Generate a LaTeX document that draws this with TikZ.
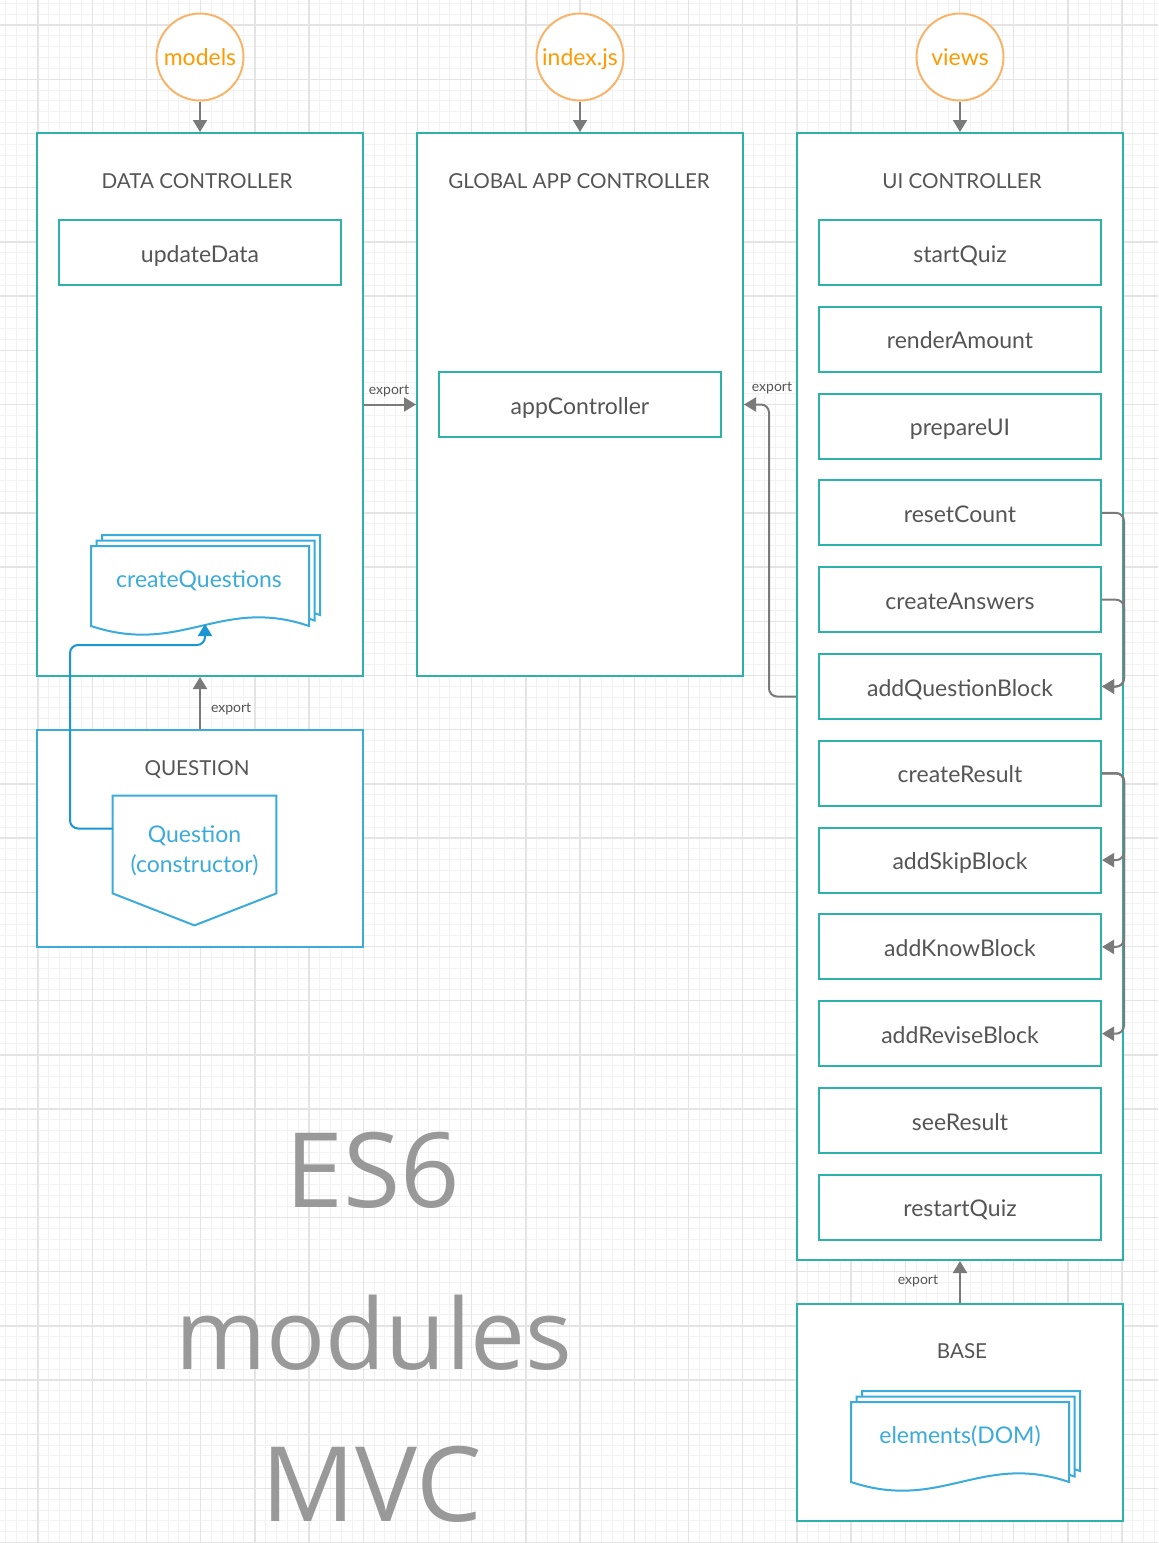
\documentclass[tikz,border=0pt]{standalone}
\usepackage{fontspec}
\setmainfont{Lato}
\newfontfamily\grandefont{Open Sans}
\usetikzlibrary{arrows.meta}
\definecolor{verdeacqua}{HTML}{2CB1AB}
\definecolor{bluedoc}{HTML}{3AABDB}
\definecolor{bluelink}{HTML}{1A96D3}
\definecolor{arancio}{HTML}{F8B46A}
\definecolor{arancioscuro}{HTML}{FF9A00}
\definecolor{grigiotesto}{HTML}{555555}
\definecolor{grigiofreccia}{HTML}{7A7A7A}
\definecolor{grigliafine}{HTML}{F2F2F2}
\definecolor{grigliagrossa}{HTML}{E4E4E4}
\begin{document}
\begin{tikzpicture}[x=0.5pt, y=-0.5pt]
    % Definizione stili
    \tikzstyle{controller}=[draw=verdeacqua, line width=1pt, fill=white, minimum width=163pt]
    \tikzstyle{titolo}=[anchor=base, text=grigiotesto, font=\fontsize{10.3}{12}\selectfont]
    \tikzstyle{funzione}=[draw=verdeacqua, line width=1pt, fill=white, minimum width=141pt, minimum height=32.5pt, text=grigiotesto, font=\fontsize{11.5}{14}\selectfont, text height=0.96em, text depth=0pt]
    \tikzstyle{cartella}=[circle, draw=arancio, line width=1pt, fill=white, minimum size=43.5pt, inner sep=0pt, text=arancioscuro, font=\fontsize{11.5}{14}\selectfont, text height=0.8em, text depth=0pt]
    \tikzstyle{freccia}=[-{Triangle[length=6pt,width=7pt]}, line width=1pt, draw=grigiofreccia]
    \tikzstyle{etichetta}=[text=grigiotesto, font=\fontsize{7}{8}\selectfont]
    \tikzstyle{documento}=[draw=bluedoc, line width=1pt, fill=white]
    \tikzstyle{testodoc}=[text=bluedoc, font=\fontsize{11.5}{15}\selectfont]
    \tikzstyle{collegamento}=[-{Triangle[length=6pt,width=7pt]}, line width=1pt, draw=bluelink, rounded corners=4pt]
    \tikzstyle{grande}=[anchor=base, text=black!40, font=\grandefont\fontsize{52}{60}\selectfont]

    \useasboundingbox (0,0) rectangle (1158,1543);
    \fill[white] (0,0) rectangle (1158,1543);

    % Griglia
    \foreach \i in {-3,...,104}
        \draw[grigliafine, line width=0.5pt] ({38+10.84*\i},0) -- ({38+10.84*\i},1543);
    \foreach \j in {-2,...,140}
        \draw[grigliafine, line width=0.5pt] (0,{25+10.84*\j}) -- (1158,{25+10.84*\j});
    \foreach \i in {-1,...,21}
        \draw[grigliagrossa, line width=0.7pt] ({38+54.2*\i},0) -- ({38+54.2*\i},1543);
    \foreach \j in {0,...,28}
        \draw[grigliagrossa, line width=0.7pt] (0,{25+54.2*\j}) -- (1158,{25+54.2*\j});

    % Cartelle
    \node[cartella] (models) at (200,57) {models};
    \node[cartella] (indexjs) at (580,57) {index.js};
    \node[cartella] (views) at (960,57) {views};

    % Controller
    \node[controller, minimum height=271.5pt] (data) at (200,404.5) {};
    \node[controller, minimum height=271.5pt] (global) at (580,404.5) {};
    \node[controller, minimum height=563.5pt] (ui) at (960,696.5) {};
    \node[controller, draw=bluedoc, minimum height=108.5pt] (qbox) at (200,838.5) {};
    \node[controller, minimum height=108.5pt] (base) at (960,1412.5) {};

    \node[titolo] at (197,188) {DATA CONTROLLER};
    \node[titolo] at (579,188) {GLOBAL APP CONTROLLER};
    \node[titolo] at (962,188) {UI CONTROLLER};
    \node[titolo] at (197,775) {QUESTION};
    \node[titolo] at (962,1358) {BASE};

    % Funzioni
    \node[funzione] (updateData) at (200,252.5) {updateData};
    \node[funzione] (appController) at (580,404.5) {appController};
    \foreach \nome [count=\i] in {startQuiz,renderAmount,prepareUI,resetCount,createAnswers,addQuestionBlock,createResult,addSkipBlock,addKnowBlock,addReviseBlock,seeResult,restartQuiz}
        \node[funzione] (\nome) at (960,{252.5+86.8*(\i-1)}) {\nome};

    % Documenti multipli
    \begin{scope}[shift={(91,546)}]
        \foreach \o in {11,5.5,0}
            \draw[documento] ({\o},{80-\o}) -- ({\o},{-\o}) -- ({218+\o},{-\o}) -- ({218+\o},{80-\o}) .. controls ({130+\o},{50-\o}) and ({90+\o},{110-\o}) .. cycle;
    \end{scope}
    \node[testodoc] (createQuestions) at (199,581) {createQuestions};
    \coordinate (cq_fondo) at (205,624);

    \begin{scope}[shift={(851,1402)}]
        \foreach \o in {11,5.5,0}
            \draw[documento] ({\o},{80-\o}) -- ({\o},{-\o}) -- ({218+\o},{-\o}) -- ({218+\o},{80-\o}) .. controls ({130+\o},{50-\o}) and ({90+\o},{110-\o}) .. cycle;
    \end{scope}
    \node[testodoc] (elements) at (960,1436) {elements(DOM)};

    % Costruttore Question
    \node[minimum width=81.5pt, minimum height=48.5pt, inner sep=0pt] (question) at (194.5,844.5) {};
    \draw[documento] (question.north west) -- (question.north east) -- (question.south east) -- ([yshift=-16pt]question.south) -- (question.south west) -- cycle;
    \node[testodoc, align=center] at (194.5,851) {Question\\(constructor)};

    % Frecce
    \draw[freccia] (models) -- (data);
    \draw[freccia] (indexjs) -- (global);
    \draw[freccia] (views) -- (ui);
    \draw[freccia] (data.east) -- (global.west);
    \draw[freccia] (qbox) -- (data);
    \draw[freccia] (base) -- (ui);
    \draw[freccia, rounded corners=4pt] (ui.west) -- ++(-13.5pt,0) |- (global.east);
    \node[etichetta] at (389,391) {export};
    \node[etichetta] at (772,388) {export};
    \node[etichetta, anchor=west] at (204,709) {export};
    \node[etichetta] at (918,1281) {export};

    % Collegamenti interni UI
    \draw[freccia, rounded corners=4pt] (resetCount.east) -- ++(11pt,0) |- (addQuestionBlock.east);
    \draw[freccia, rounded corners=4pt] (createAnswers.east) -- ++(11pt,0) |- (addQuestionBlock.east);
    \draw[freccia, rounded corners=4pt] (createResult.east) -- ++(11pt,0) |- (addSkipBlock.east);
    \draw[freccia, rounded corners=4pt] (createResult.east) -- ++(11pt,0) |- (addKnowBlock.east);
    \draw[freccia, rounded corners=4pt] (createResult.east) -- ++(11pt,0) |- (addReviseBlock.east);

    % Collegamento Question -> createQuestions
    \draw[collegamento] ([yshift=8pt]question.west) -| (70,645) -| (cq_fondo);

    % Scritta
    \node[grande] at (373,1207) {ES6};
    \node[grande, font=\grandefont\fontsize{49}{56}\selectfont] at (374,1369) {modules};
    \node[grande] at (372,1521) {MVC};
\end{tikzpicture}
\end{document}
